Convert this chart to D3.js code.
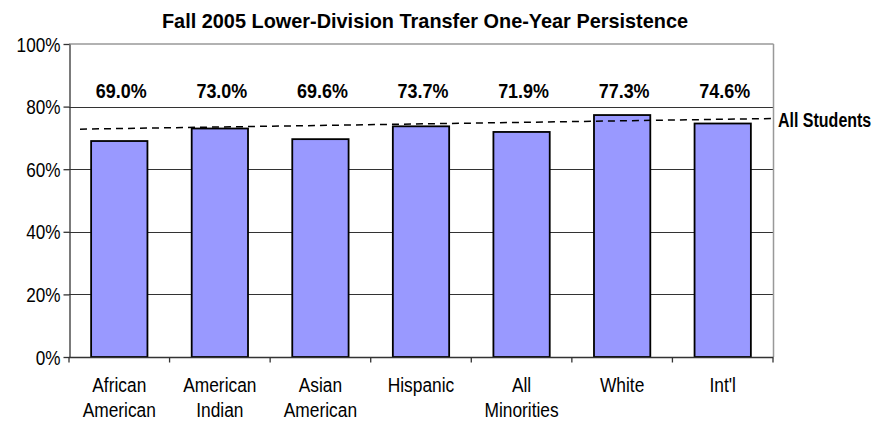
<!DOCTYPE html>
<html><head><meta charset="utf-8">
<script src="https://cdn.jsdelivr.net/npm/d3@7"></script>
<style>body{margin:0;background:#fff}svg{display:block}text{font-family:"Liberation Sans",Arial,sans-serif}</style>
</head><body>
<svg id="c" width="880" height="421"></svg>
<script>
const title = "Fall 2005 Lower-Division Transfer One-Year Persistence";
const categories = [["African","American"],["American","Indian"],["Asian","American"],["Hispanic"],["All","Minorities"],["White"],["Int'l"]];
const values = [69.0, 73.0, 69.6, 73.7, 71.9, 77.3, 74.6];
const valueLabels = ["69.0%","73.0%","69.6%","73.7%","71.9%","77.3%","74.6%"];
const allStudentsLabel = "All Students";
const allStudents = [72.8, 76.2]; // start, end of reference line
const yTicks = [0, 20, 40, 60, 80, 100];

const svg = d3.select("#c");
const L = 69, R = 773, T = 44, B = 357;
const x = d3.scaleBand().domain(d3.range(values.length)).range([L, R]).paddingInner(0.44).paddingOuter(0.22);
const xb = d3.scaleBand().domain(d3.range(values.length)).range([L, R]);
const y = d3.scaleLinear().domain([0, 100]).range([B, T]);

function condense(sel, k) {
  sel.each(function() {
    const len = this.getComputedTextLength();
    d3.select(this).attr("textLength", len * k).attr("lengthAdjust", "spacingAndGlyphs");
  });
}

// gridlines
svg.append("g").selectAll("line").data(yTicks.filter(d => d > 0 && d < 100)).join("line")
  .attr("x1", L).attr("x2", R).attr("y1", d => Math.round(y(d))+0.5).attr("y2", d => Math.round(y(d))+0.5)
  .attr("stroke", "#333").attr("stroke-width", 1);
// top & right border
svg.append("line").attr("x1", L).attr("x2", R+0.5).attr("y1", y(100)).attr("y2", y(100)).attr("stroke", "#999").attr("stroke-width", 1.5);
svg.append("line").attr("x1", R+0.5).attr("x2", R+0.5).attr("y1", y(100)).attr("y2", B).attr("stroke", "#999").attr("stroke-width", 1.5);

// bars
svg.append("g").selectAll("rect").data(values).join("rect")
  .attr("x", (d, i) => x(i)).attr("width", x.bandwidth())
  .attr("y", d => y(d)).attr("height", d => B - y(d))
  .attr("fill", "#9999ff").attr("stroke", "#000").attr("stroke-width", 1.8);

// y axis
const ya = svg.append("g").attr("transform", `translate(${L+0.5},0)`)
  .call(d3.axisLeft(y).tickValues(yTicks).tickFormat(d => d + "%").tickSize(6).tickSizeOuter(0));
ya.attr("font-family", null);
ya.select(".domain").attr("stroke", "#333").attr("stroke-width", 1.3);
ya.selectAll(".tick line").attr("stroke", "#333").attr("stroke-width", 1.3);
const yt = ya.selectAll(".tick text").attr("font-size", 19.5).attr("fill", "#000").attr("x", -9).attr("dy", "0.36em")
  .style("font-family", '"Liberation Sans",Arial,sans-serif');
condense(yt, 0.88);

// x axis
const xa = svg.append("g").attr("transform", `translate(0,${B+0.5})`);
xa.append("line").attr("x1", L).attr("x2", R+0.5).attr("y1", 0).attr("y2", 0).attr("stroke", "#333").attr("stroke-width", 1.3);
xa.selectAll("line.tk").data(d3.range(values.length + 1)).join("line").attr("class", "tk")
  .attr("x1", i => i < values.length ? xb(i) : R).attr("x2", i => i < values.length ? xb(i) : R)
  .attr("y1", 0).attr("y2", 5).attr("stroke", "#333").attr("stroke-width", 1.3);
const xl = xa.selectAll("text").data(categories).join("text")
  .attr("font-size", 19.5).attr("fill", "#000");
xl.selectAll("tspan").data((d, i) => d.map(s => [s, i])).join("tspan")
  .attr("x", d => xb(d[1]) + xb.bandwidth() / 2).attr("text-anchor", "middle")
  .attr("y", (d, j) => 34 + j * 25).text(d => d[0]);
condense(xl.selectAll("tspan"), 0.89);

// all students dashed line
const xs = d3.scaleLinear().domain([0, 1]).range([L + 11, R]);
svg.append("path").datum(allStudents)
  .attr("d", d3.line().x((d, i) => xs(i)).y(d => y(d)))
  .attr("fill", "none").attr("stroke", "#000").attr("stroke-width", 1.5).attr("stroke-dasharray", "7,5");
svg.append("text")
  .attr("transform", `translate(${R + 5},${y(allStudents[1]) + 9}) scale(0.82,1)`)
  .attr("font-size", 19.5).attr("font-weight", "bold").text(allStudentsLabel);

// value labels
const vl = svg.append("g").selectAll("text").data(values).join("text")
  .attr("x", (d, i) => xb(i) + xb.bandwidth() / 2 + 2).attr("y", 97.5)
  .attr("text-anchor", "middle").attr("font-size", 19.5).attr("font-weight", "bold")
  .text((d, i) => valueLabels[i]);
condense(vl, 0.92);

// title
const tt = svg.append("text").attr("x", 425).attr("y", 27.5).attr("text-anchor", "middle")
  .attr("font-size", 20.5).attr("font-weight", "bold").text(title);
condense(tt, 0.97);
</script>
</body></html>
